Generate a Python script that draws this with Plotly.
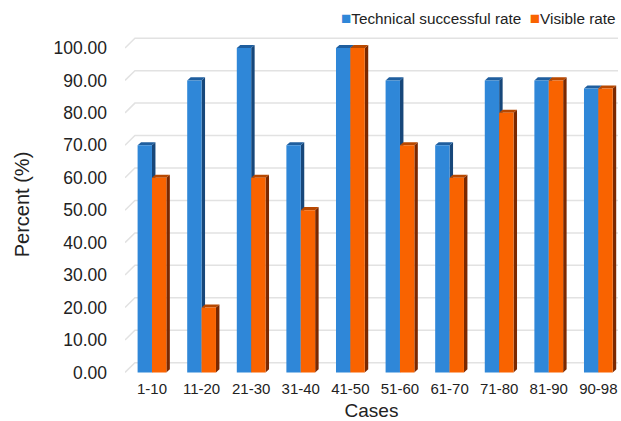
import plotly.graph_objects as go

categories = ["1-10", "11-20", "21-30", "31-40", "41-50", "51-60", "61-70", "71-80", "81-90", "90-98"]
technical = [70, 90, 100, 70, 100, 90, 70, 90, 90, 87.5]
visible = [60, 20, 60, 50, 100, 70, 60, 80, 90, 87.5]
y_ticks = [0, 10, 20, 30, 40, 50, 60, 70, 80, 90, 100]
series_names = ["Technical successful rate", "Visible rate"]

BLUE, BLUE_SIDE, BLUE_TOP = "#2F87D8", "#17477A", "#1F5E9E"
ORANGE, ORANGE_SIDE, ORANGE_TOP = "#F96300", "#7A2800", "#B84800"

idx = list(range(len(categories)))
bargap = 0.42
w = (1 - bargap) / 2
dx, dy = 0.07, 0.95

fig = go.Figure()
fig.add_trace(go.Bar(x=idx, y=technical, name=series_names[0],
                     marker=dict(color=BLUE, line=dict(width=0))))
fig.add_trace(go.Bar(x=idx, y=visible, name=series_names[1],
                     marker=dict(color=ORANGE, line=dict(width=0))))

x_lo, x_hi = -0.544, 9.396
shapes = []
for t in y_ticks:
    shapes.append(dict(type="path", xref="x", yref="y", layer="below",
                       path=f"M{x_lo},{t} L{x_lo + 0.2},{t + 3} L{x_hi},{t + 3}",
                       line=dict(color="#E2E2E2", width=1.5)))
for series, off, side, top in [(technical, -w, BLUE_SIDE, BLUE_TOP), (visible, 0, ORANGE_SIDE, ORANGE_TOP)]:
    for i, v in zip(idx, series):
        x0 = i + off
        x1 = x0 + w
        shapes.append(dict(type="path", xref="x", yref="y", layer="below",
                           path=f"M{x1},0 L{x1},{v} L{x1 + dx},{v + dy} L{x1 + dx},{dy} Z",
                           fillcolor=side, line=dict(width=0)))
        shapes.append(dict(type="path", xref="x", yref="y", layer="below",
                           path=f"M{x0},{v} L{x0 + dx},{v + dy} L{x1 + dx},{v + dy} L{x1},{v} Z",
                           fillcolor=top, line=dict(width=0)))

sq = "<span style='color:{c};font-size:17px'>■</span>"
legend_text = (sq.format(c=BLUE) + series_names[0] + "  " + sq.format(c=ORANGE) + series_names[1])
annotations = [dict(text=legend_text, xref="paper", yref="paper", x=1.0, y=1.05,
                    xanchor="right", yanchor="middle", showarrow=False,
                    font=dict(size=15.3, color="#222222"))]

fig.update_layout(
    width=621, height=421,
    margin=dict(l=125, r=3, t=35, b=47, autoexpand=False),
    paper_bgcolor="white", plot_bgcolor="rgba(0,0,0,0)",
    barmode="group", bargap=bargap, bargroupgap=0,
    font=dict(family="Liberation Sans, Arial, sans-serif", color="#222222"),
    shapes=shapes,
    annotations=annotations,
    showlegend=False,
    xaxis=dict(range=[x_lo, x_hi], tickmode="array", tickvals=idx, ticktext=categories,
               showgrid=False, zeroline=False, showline=False, ticks="",
               ticklabelstandoff=4, automargin=False,
               tickfont=dict(size=15),
               title=dict(text="Cases", font=dict(size=19), standoff=13)),
    yaxis=dict(range=[-0.5, 104], tickmode="array", tickvals=y_ticks,
               ticktext=[f"{t:.2f}" for t in y_ticks],
               showgrid=False, zeroline=False, showline=False, ticks="",
               ticklabelstandoff=17, automargin=False,
               tickfont=dict(size=17.5),
               title=dict(text="Percent (%)", font=dict(size=20), standoff=18)),
)

fig.write_html("out.html", config={"displayModeBar": False},
               post_script="document.body.style.margin='0';")
